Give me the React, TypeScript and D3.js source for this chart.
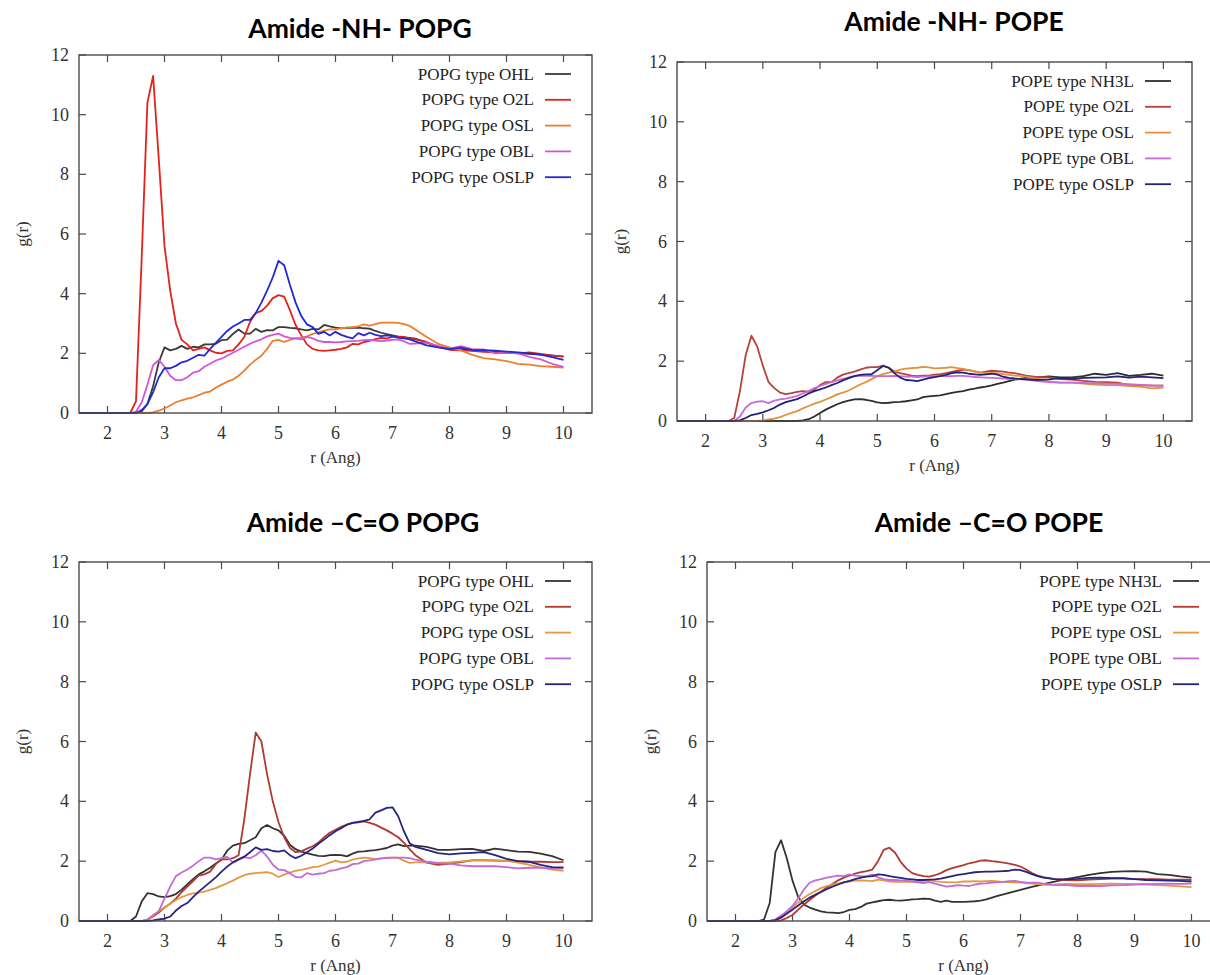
import React from "react";
import * as d3 from "d3";

// shared r grid (Angstrom)
const R = [1.5, 2.4, 2.5, 2.6, 2.7, 2.8, 2.9, 3.0, 3.1, 3.2, 3.3, 3.4, 3.5, 3.6, 3.7, 3.8, 3.9, 4.0, 4.1, 4.2, 4.3, 4.4, 4.5, 4.6, 4.7, 4.8, 4.9, 5.0, 5.1, 5.2, 5.3, 5.4, 5.5, 5.6, 5.7, 5.8, 5.9, 6.0, 6.1, 6.2, 6.3, 6.4, 6.5, 6.6, 6.7, 6.8, 6.9, 7.0, 7.1, 7.2, 7.3, 7.4, 7.6, 7.8, 8.0, 8.2, 8.4, 8.6, 8.8, 9.0, 9.2, 9.4, 9.6, 9.8, 10.0];

const xTicks = [2, 3, 4, 5, 6, 7, 8, 9, 10];
const yTicks = [0, 2, 4, 6, 8, 10, 12];
const xDomain = [1.5, 10.5];
const yDomain = [0, 12];

// ---- Amide -NH- POPG ----
const nhPopgOHL = [0,
  0, 0, 0.05, 0.3, 0.9, 1.7, 2.2, 2.1, 2.15, 2.25,
  2.15, 2.22, 2.2, 2.3, 2.3, 2.32, 2.44, 2.46, 2.65, 2.8,
  2.66, 2.66, 2.82, 2.72, 2.78, 2.77, 2.88, 2.88, 2.85, 2.84,
  2.8, 2.77, 2.82, 2.8, 2.95, 2.9, 2.86, 2.84, 2.86, 2.85,
  2.86, 2.84, 2.83, 2.75, 2.69, 2.64, 2.6, 2.56, 2.53, 2.52,
  2.49,
  2.36, 2.22, 2.15, 2.13, 2.1, 2.08, 2.06, 2.03, 2.01, 1.98, 1.96, 1.93, 1.89];
const nhPopgO2L = [0,
  0, 0.4, 5.2, 10.4, 11.3, 8.5, 5.6, 4.1, 3.0, 2.45,
  2.3, 2.1, 2.15, 2.2, 2.1, 2.02, 2.0, 2.08, 2.1, 2.3,
  2.55, 3.05, 3.35, 3.42, 3.6, 3.85, 3.95, 3.9, 3.45, 2.95,
  2.6, 2.3, 2.15, 2.1, 2.08, 2.1, 2.12, 2.15, 2.2, 2.32,
  2.3, 2.38, 2.42, 2.48, 2.52, 2.5, 2.55, 2.56, 2.55, 2.5,
  2.47,
  2.38, 2.22, 2.12, 2.1, 2.08, 2.05, 2.03, 2.02, 2.0, 2.03, 1.98, 1.92, 1.9];
const nhPopgOSL = [0,
  0, 0, 0, 0, 0.02, 0.08, 0.15, 0.25, 0.36, 0.42,
  0.48, 0.52, 0.6, 0.68, 0.72, 0.85, 0.95, 1.05, 1.12, 1.25,
  1.42, 1.62, 1.78, 1.92, 2.15, 2.42, 2.45, 2.38, 2.45, 2.5,
  2.53, 2.57, 2.65, 2.7, 2.76, 2.8, 2.8, 2.84, 2.86, 2.88,
  2.9, 2.97, 2.93, 2.98, 3.03, 3.03, 3.03, 3.02, 2.98, 2.92,
  2.8,
  2.55, 2.32, 2.2, 2.1, 1.95, 1.84, 1.8, 1.74, 1.65, 1.62, 1.57, 1.55, 1.52];
const nhPopgOBL = [0,
  0, 0.05, 0.35, 0.95, 1.6, 1.78, 1.55, 1.25, 1.1, 1.1,
  1.2, 1.35, 1.4, 1.55, 1.65, 1.76, 1.82, 1.92, 2.02, 2.12,
  2.22, 2.32, 2.4, 2.47, 2.57, 2.62, 2.66, 2.57, 2.52, 2.5,
  2.47, 2.55, 2.5, 2.42, 2.38, 2.38, 2.37, 2.38, 2.4, 2.41,
  2.42, 2.44, 2.45, 2.43, 2.41, 2.43, 2.45, 2.47, 2.4, 2.32,
  2.33,
  2.36, 2.25, 2.16, 2.24, 2.14, 2.13, 2.0, 2.02, 2.0, 1.88, 1.8, 1.65, 1.55];
const nhPopgOSLP = [0,
  0, 0, 0.1, 0.3, 0.7, 1.2, 1.5, 1.5, 1.58, 1.7,
  1.75, 1.85, 1.95, 1.92, 2.15, 2.35, 2.55, 2.75, 2.9, 3.0,
  3.12, 3.12, 3.35, 3.7, 4.1, 4.55, 5.1, 4.95, 4.3, 3.7,
  3.25, 2.97, 2.88, 2.65, 2.72, 2.6, 2.72, 2.62, 2.55, 2.5,
  2.68, 2.6, 2.69, 2.62, 2.58, 2.6, 2.58, 2.53, 2.5, 2.47,
  2.4,
  2.27, 2.2, 2.14, 2.19, 2.11, 2.11, 2.09, 2.06, 2.03, 2.0, 1.96, 1.87, 1.78];

// ---- Amide -NH- POPE ----
const nhPopeNH3L = [0,
  0, 0, 0, 0, 0, 0, 0, 0, 0, 0,
  0, 0, 0, 0.02, 0.06, 0.15, 0.27, 0.38, 0.47, 0.56,
  0.63, 0.68, 0.72, 0.73, 0.71, 0.67, 0.62, 0.6, 0.61, 0.63,
  0.64, 0.66, 0.69, 0.72, 0.8, 0.82, 0.84, 0.86, 0.9, 0.94,
  0.97, 1.0, 1.05, 1.08, 1.12, 1.15, 1.19, 1.24, 1.28, 1.33,
  1.38,
  1.44, 1.46, 1.49, 1.46, 1.46, 1.5, 1.58, 1.54, 1.6, 1.51, 1.54, 1.58, 1.52];
const nhPopeO2L = [0,
  0, 0.1, 1.0, 2.2, 2.85, 2.5, 1.85, 1.3, 1.1, 0.95,
  0.9, 0.93, 0.97, 1.0, 0.98, 1.05, 1.2, 1.3, 1.3, 1.45,
  1.55, 1.6, 1.65, 1.72, 1.78, 1.8, 1.8, 1.85, 1.78, 1.65,
  1.6, 1.56, 1.52, 1.5, 1.52, 1.52, 1.55, 1.57, 1.6, 1.64,
  1.68, 1.72, 1.7, 1.66, 1.62, 1.65, 1.68, 1.67, 1.65, 1.62,
  1.6,
  1.52, 1.47, 1.46, 1.4, 1.38, 1.34, 1.31, 1.3, 1.28, 1.2, 1.19, 1.18, 1.18];
const nhPopeOSL = [0,
  0, 0, 0, 0, 0, 0, 0.02, 0.05, 0.08, 0.13,
  0.2, 0.27, 0.33, 0.42, 0.5, 0.58, 0.64, 0.72, 0.8, 0.89,
  0.95, 1.02, 1.12, 1.22, 1.3, 1.4, 1.5, 1.57, 1.62, 1.66,
  1.72, 1.75, 1.77, 1.78, 1.81, 1.79, 1.76, 1.77, 1.78, 1.8,
  1.77, 1.74, 1.7, 1.65, 1.62, 1.6, 1.6, 1.6, 1.57, 1.54,
  1.52,
  1.48, 1.42, 1.32, 1.28, 1.28, 1.25, 1.22, 1.2, 1.2, 1.17, 1.15, 1.09, 1.12];
const nhPopeOBL = [0,
  0, 0, 0.15, 0.45, 0.6, 0.65, 0.66, 0.6, 0.68, 0.72,
  0.75, 0.79, 0.84, 0.92, 1.0, 1.1, 1.17, 1.24, 1.3, 1.36,
  1.41, 1.46, 1.5, 1.51, 1.52, 1.51, 1.5, 1.5, 1.5, 1.51,
  1.5, 1.48, 1.48, 1.47, 1.48, 1.49, 1.5, 1.5, 1.5, 1.5,
  1.51, 1.51, 1.49, 1.47, 1.46, 1.45, 1.44, 1.43, 1.42, 1.41,
  1.4,
  1.38, 1.33, 1.3, 1.28, 1.28, 1.27, 1.26, 1.25, 1.24, 1.23, 1.21, 1.19, 1.18];
const nhPopeOSLP = [0,
  0, 0, 0.02, 0.1, 0.2, 0.24, 0.29, 0.36, 0.44, 0.55,
  0.63, 0.68, 0.73, 0.82, 0.92, 1.0, 1.06, 1.12, 1.2, 1.27,
  1.36, 1.43, 1.5, 1.54, 1.56, 1.56, 1.7, 1.84, 1.78, 1.6,
  1.45, 1.37, 1.36, 1.33, 1.38, 1.43, 1.47, 1.5, 1.54, 1.6,
  1.63, 1.62, 1.58, 1.56, 1.54, 1.56, 1.58, 1.55, 1.48, 1.44,
  1.42,
  1.39, 1.37, 1.39, 1.43, 1.4, 1.44, 1.45, 1.46, 1.49, 1.45, 1.48, 1.46, 1.43];

// ---- Amide -C=O POPG ----
const coPopgOHL = [0,
  0, 0.15, 0.65, 0.93, 0.9, 0.82, 0.8, 0.83, 0.9, 1.05,
  1.22, 1.4, 1.56, 1.66, 1.78, 1.92, 2.05, 2.35, 2.52, 2.58,
  2.6, 2.7, 2.8, 3.1, 3.21, 3.1, 3.03, 2.85, 2.55, 2.4,
  2.32, 2.27, 2.22, 2.18, 2.17, 2.2, 2.21, 2.2, 2.16, 2.25,
  2.32, 2.33, 2.35, 2.37, 2.4, 2.44, 2.52, 2.56, 2.5, 2.52,
  2.52,
  2.48, 2.38, 2.38, 2.4, 2.41, 2.34, 2.42, 2.37, 2.32, 2.31, 2.25, 2.17, 2.03];
const coPopgO2L = [0,
  0, 0, 0, 0.05, 0.15, 0.28, 0.45, 0.58, 0.75, 0.97,
  1.15, 1.33, 1.52, 1.56, 1.65, 1.9, 2.07, 2.06, 2.1, 2.2,
  3.4, 4.9, 6.3, 6.0, 4.9, 4.0, 3.3, 2.8, 2.45, 2.3,
  2.33, 2.42, 2.5, 2.62, 2.8, 2.95, 3.05, 3.15, 3.22, 3.28,
  3.32, 3.33, 3.28, 3.22, 3.12, 3.03, 2.92, 2.8, 2.62, 2.4,
  2.2,
  1.95, 1.88, 1.92, 1.97, 2.03, 2.03, 2.02, 2.01, 2.0, 1.98, 1.98, 1.97, 1.97];
const coPopgOSL = [0,
  0, 0, 0, 0.05, 0.2, 0.33, 0.45, 0.58, 0.7, 0.8,
  0.87, 0.92, 0.95, 0.98, 1.04, 1.1, 1.18, 1.26, 1.35, 1.45,
  1.53, 1.58, 1.6, 1.62, 1.63, 1.58, 1.47, 1.55, 1.62, 1.68,
  1.71, 1.75, 1.8, 1.82, 1.88, 1.95, 2.02, 1.96, 1.98, 2.05,
  2.09, 2.12, 2.1, 2.06, 2.09, 2.12, 2.12, 2.11, 2.02, 1.94,
  1.96,
  1.97, 1.94, 1.96, 1.99, 2.03, 2.03, 2.03, 2.01, 1.95, 1.88, 1.79, 1.72, 1.68];
const coPopgOBL = [0,
  0, 0, 0, 0.05, 0.17, 0.33, 0.75, 1.15, 1.5, 1.62,
  1.72, 1.85, 2.0, 2.12, 2.12, 2.06, 2.1, 2.14, 1.95, 2.05,
  2.13, 2.1, 2.2, 2.35, 2.15, 1.88, 1.72, 1.7, 1.6, 1.47,
  1.46, 1.6, 1.55, 1.58, 1.6, 1.68, 1.7, 1.76, 1.8, 1.9,
  1.92, 2.0, 2.03, 2.06, 2.09, 2.1, 2.12, 2.12, 2.12, 2.1,
  2.05,
  1.98, 1.93, 1.92, 1.86, 1.83, 1.83, 1.83, 1.8, 1.76, 1.78, 1.78, 1.76, 1.76];
const coPopgOSLP = [0,
  0, 0, 0, 0, 0.02, 0.05, 0.08, 0.15, 0.35, 0.5,
  0.6, 0.8, 0.98, 1.14, 1.3, 1.46, 1.65, 1.82, 1.96, 2.06,
  2.15, 2.3, 2.46, 2.38, 2.4, 2.34, 2.32, 2.36, 2.2, 2.1,
  2.18, 2.3, 2.42, 2.58, 2.72, 2.87, 3.0, 3.1, 3.22, 3.28,
  3.3, 3.35, 3.4, 3.62, 3.7, 3.78, 3.8, 3.5, 3.0, 2.6,
  2.48,
  2.38, 2.27, 2.23, 2.26, 2.28, 2.3, 2.2, 2.08, 2.0, 1.98, 1.88, 1.8, 1.79];

// ---- Amide -C=O POPE ----
const coPopeNH3L = [0,
  0, 0.05, 0.6, 2.3, 2.7, 2.1, 1.35, 0.8, 0.55, 0.45,
  0.38, 0.32, 0.29, 0.28, 0.26, 0.3, 0.37, 0.4, 0.47, 0.58,
  0.62, 0.66, 0.7, 0.71, 0.69, 0.68, 0.7, 0.72, 0.73, 0.75,
  0.74, 0.68, 0.64, 0.68, 0.64, 0.64, 0.64, 0.65, 0.66, 0.68,
  0.72, 0.78, 0.84, 0.89, 0.94, 0.99, 1.04, 1.09, 1.14, 1.18,
  1.23,
  1.32, 1.4, 1.47, 1.54, 1.6, 1.64, 1.66, 1.67, 1.65, 1.57, 1.54, 1.49, 1.45];
const coPopeO2L = [0,
  0, 0, 0, 0, 0.02, 0.1, 0.2, 0.38, 0.55, 0.7,
  0.85, 0.98, 1.12, 1.24, 1.36, 1.45, 1.52, 1.58, 1.63, 1.67,
  1.72, 2.0, 2.38, 2.45, 2.28, 1.97, 1.75, 1.6, 1.54, 1.5,
  1.48, 1.53, 1.6, 1.7, 1.77, 1.82, 1.87, 1.93, 1.97, 2.02,
  2.03, 2.0, 1.98, 1.95, 1.92, 1.88, 1.82, 1.72, 1.6, 1.52,
  1.47,
  1.4, 1.37, 1.36, 1.38, 1.4, 1.42, 1.42, 1.4, 1.4, 1.4, 1.38, 1.38, 1.38];
const coPopeOSL = [0,
  0, 0, 0, 0.02, 0.1, 0.25, 0.45, 0.62, 0.78, 0.9,
  1.0, 1.1, 1.17, 1.22, 1.26, 1.29, 1.32, 1.35, 1.36, 1.35,
  1.33, 1.38, 1.36, 1.32, 1.31, 1.31, 1.31, 1.31, 1.32, 1.34,
  1.35, 1.33, 1.31, 1.3, 1.29, 1.3, 1.32, 1.32, 1.33, 1.32,
  1.33, 1.34, 1.32, 1.3, 1.3, 1.29, 1.28, 1.27, 1.25, 1.23,
  1.21,
  1.22, 1.24, 1.23, 1.23, 1.24, 1.25, 1.24, 1.23, 1.22, 1.2, 1.18, 1.16, 1.13];
const coPopeOBL = [0,
  0, 0, 0, 0.05, 0.18, 0.33, 0.5, 0.75, 1.05, 1.28,
  1.36, 1.4, 1.45, 1.48, 1.52, 1.5, 1.56, 1.52, 1.5, 1.49,
  1.55, 1.46, 1.4, 1.37, 1.37, 1.36, 1.35, 1.32, 1.29, 1.27,
  1.3, 1.25, 1.2, 1.15, 1.17, 1.2, 1.18, 1.17, 1.22, 1.25,
  1.26, 1.28, 1.3, 1.31, 1.33, 1.34, 1.31, 1.28, 1.28, 1.28,
  1.25,
  1.2, 1.2, 1.17, 1.17, 1.17, 1.19, 1.2, 1.22, 1.23, 1.24, 1.25, 1.24, 1.25];
const coPopeOSLP = [0,
  0, 0, 0, 0.03, 0.12, 0.25, 0.38, 0.52, 0.66, 0.78,
  0.88, 0.97, 1.06, 1.15, 1.22, 1.29, 1.34, 1.4, 1.45, 1.48,
  1.5, 1.56, 1.54, 1.5, 1.47, 1.44, 1.41, 1.39, 1.37, 1.37,
  1.38, 1.39, 1.42, 1.46, 1.5, 1.54, 1.57, 1.6, 1.63, 1.64,
  1.65, 1.65, 1.66, 1.67, 1.68, 1.72, 1.7, 1.64, 1.57, 1.5,
  1.45,
  1.4, 1.39, 1.41, 1.44, 1.45, 1.43, 1.43, 1.4, 1.37, 1.36, 1.35, 1.34, 1.32];

const titles = ["Amide -NH- POPG", "Amide -NH- POPE", "Amide \u2013C=O POPG", "Amide \u2013C=O POPE"];
const popgLabels = ["POPG type OHL", "POPG type O2L", "POPG type OSL", "POPG type OBL", "POPG type OSLP"];
const popeLabels = ["POPE type NH3L", "POPE type O2L", "POPE type OSL", "POPE type OBL", "POPE type OSLP"];

const colorsA = ["#3a3a3a", "#e3221b", "#ee7d2c", "#d456d6", "#2128d6"];
const colorsB = ["#2e2e2e", "#b8423a", "#e3923c", "#c86ad8", "#22227a"];
const colorsC = ["#333333", "#b03a30", "#e19a42", "#c46ad6", "#25257e"];

const panels = [
  { title: titles[0], left: 79, top: 55, width: 513, height: 358, tx: 360, ty: 28,
    labels: popgLabels, colors: colorsA, data: [nhPopgOHL, nhPopgO2L, nhPopgOSL, nhPopgOBL, nhPopgOSLP] },
  { title: titles[1], left: 677, top: 62, width: 515, height: 359, tx: 954, ty: 21,
    labels: popeLabels, colors: colorsB, data: [nhPopeNH3L, nhPopeO2L, nhPopeOSL, nhPopeOBL, nhPopeOSLP] },
  { title: titles[2], left: 79, top: 562, width: 513, height: 359, tx: 363, ty: 522,
    labels: popgLabels, colors: colorsC, data: [coPopgOHL, coPopgO2L, coPopgOSL, coPopgOBL, coPopgOSLP] },
  { title: titles[3], left: 707, top: 562, width: 513, height: 359, tx: 989, ty: 522,
    labels: popeLabels, colors: colorsC, data: [coPopeNH3L, coPopeO2L, coPopeOSL, coPopeOBL, coPopeOSLP] },
];

const SERIF = "'Liberation Serif', 'DejaVu Serif', serif";
const FRAME = "#4a4a4a";

function Panel({ p }: { p: any }) {
  const x = d3.scaleLinear().domain(xDomain).range([p.left, p.left + p.width]);
  const y = d3.scaleLinear().domain(yDomain).range([p.top + p.height, p.top]);
  const bottom = p.top + p.height;
  const right = p.left + p.width;
  const tickLen = 7;
  const line = d3
    .line<[number, number]>()
    .x((d) => x(d[0]))
    .y((d) => y(d[1]));

  return (
    <g>
      <text x={p.tx} y={p.ty} textAnchor="middle" dominantBaseline="central"
        fontFamily="Lato, 'Open Sans', sans-serif" fontWeight={700} fontSize={26.5} fill="#000">
        {p.title}
      </text>
      {xTicks.map((t) => (
        <g key={"x" + t}>
          <line x1={x(t)} x2={x(t)} y1={bottom} y2={bottom - tickLen} stroke={FRAME} strokeWidth={1.2} />
          <line x1={x(t)} x2={x(t)} y1={p.top} y2={p.top + tickLen} stroke={FRAME} strokeWidth={1.2} />
          <text x={x(t)} y={bottom + 20} textAnchor="middle" dominantBaseline="central"
            fontFamily={SERIF} fontSize={18} fill="#333">{t}</text>
        </g>
      ))}
      {yTicks.map((t) => (
        <g key={"y" + t}>
          <line x1={p.left} x2={p.left + tickLen} y1={y(t)} y2={y(t)} stroke={FRAME} strokeWidth={1.2} />
          <line x1={right} x2={right - tickLen} y1={y(t)} y2={y(t)} stroke={FRAME} strokeWidth={1.2} />
          <text x={p.left - 10} y={y(t)} textAnchor="end" dominantBaseline="central"
            fontFamily={SERIF} fontSize={18} fill="#333">{t}</text>
        </g>
      ))}
      {p.data.map((vals: number[], i: number) => {
        const pts: [number, number][] = vals.slice(0, R.length).map((v, k) => [R[k], v]);
        return (
          <path key={"s" + i} d={line(pts) || ""} fill="none" stroke={p.colors[i]}
            strokeWidth={1.8} strokeLinejoin="round" />
        );
      })}
      <rect x={p.left} y={p.top} width={p.width} height={p.height} fill="none" stroke={FRAME} strokeWidth={1.4} />
      {p.labels.map((lab: string, i: number) => {
        const ly = p.top + 19 + i * 25.8;
        return (
          <g key={"l" + i}>
            <text x={right - 58} y={ly} textAnchor="end" dominantBaseline="central"
              fontFamily={SERIF} fontSize={17} fill="#222">{lab}</text>
            <line x1={right - 47} x2={right - 21} y1={ly} y2={ly} stroke={p.colors[i]} strokeWidth={1.8} />
          </g>
        );
      })}
      <text x={(p.left + right) / 2} y={bottom + 44} textAnchor="middle" dominantBaseline="central"
        fontFamily={SERIF} fontSize={17} fill="#333">r (Ang)</text>
      <text transform={`translate(${p.left - 57},${(p.top + bottom) / 2}) rotate(-90)`} textAnchor="middle"
        dominantBaseline="central" fontFamily={SERIF} fontSize={17} fill="#333">g(r)</text>
    </g>
  );
}

export default function App() {
  return (
    <svg width={1210} height={975} viewBox="0 0 1210 975"
      style={{ position: "absolute", left: 0, top: 0, background: "#fff", display: "block" }}>
      <rect x={0} y={0} width={1210} height={975} fill="#fff" />
      {panels.map((p, i) => (
        <Panel key={i} p={p} />
      ))}
    </svg>
  );
}
